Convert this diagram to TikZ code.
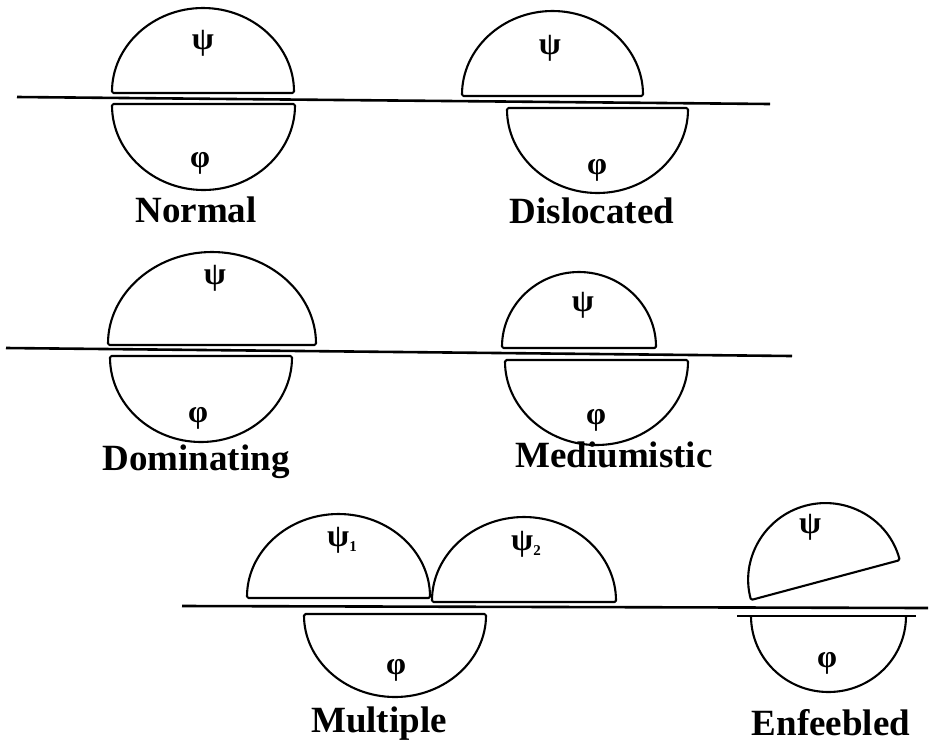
\documentclass[tikz,border=0pt]{standalone}
\usepackage{fontspec}
\setmainfont{Liberation Serif}
\usepackage{tikz}

\newcommand{\lowidx}[1]{\raisebox{-5pt}{\fontsize{15}{15}\selectfont #1}}

\begin{document}
\begin{tikzpicture}[
  x=1pt,
  y=-1pt,
  dome/.style={
    draw=black,
    line width=2.1pt,
    line join=round,
    rounded corners=1.5pt
  },
  ground/.style={
    draw=black,
    line width=2.6pt
  },
  caption/.style={
    anchor=base,
    inner sep=0pt,
    font=\fontsize{37}{40}\selectfont\bfseries
  },
  greek/.style={
    inner sep=0pt,
    font=\fontsize{32}{34}\selectfont\bfseries
  }
]
\useasboundingbox (0,0) rectangle (929,748);

% row one
\draw[ground] (17,97) -- (770,104);
\draw[dome] (112,93) arc[start angle=180, end angle=360, x radius=91, y radius=85] -- cycle;
\draw[dome] (112,104) arc[start angle=180, end angle=0, x radius=91.5, y radius=86] -- cycle;
\node[greek] (normpsi) at (203,43) {ψ};
\node[greek] (normphi) at (200,163) {φ};
\node[caption] (normal) at (196,222) {Normal};

\draw[dome] (462,96) arc[start angle=180, end angle=360, x radius=90.5, y radius=85] -- cycle;
\draw[dome] (507,108) arc[start angle=180, end angle=0, x radius=90.5, y radius=85] -- cycle;
\node[greek] (dislpsi) at (550,48) {ψ};
\node[greek] (dislphi) at (597,170) {φ};
\node[caption] (dislocated) at (592,223) {Dislocated};

% row two
\draw[ground] (6,348) -- (792,356);
\draw[dome] (108,345) arc[start angle=180, end angle=360, x radius=104, y radius=93] -- cycle;
\draw[dome] (110,356) arc[start angle=180, end angle=0, x radius=91, y radius=86] -- cycle;
\node[greek] (dompsi) at (215,278) {ψ};
\node[greek] (domphi) at (198,418) {φ};
\node[caption] (dominating) at (196,470) {Dominating};

\draw[dome] (502,348) arc[start angle=180, end angle=360, x radius=77, y radius=76] -- cycle;
\draw[dome] (505,360) arc[start angle=180, end angle=0, x radius=91.5, y radius=85] -- cycle;
\node[greek] (medpsi) at (583,305) {ψ};
\node[greek] (medphi) at (596,420) {φ};
\node[caption] (mediumistic) at (614,467) {Mediumistic};

% row three
\draw[ground] (182,606) -- (928,608);
\draw[dome] (247,598) arc[start angle=180, end angle=360, x radius=91.5, y radius=84] -- cycle;
\draw[dome] (432,602) arc[start angle=180, end angle=360, x radius=92, y radius=85] -- cycle;
\draw[dome] (304,614) arc[start angle=180, end angle=0, x radius=91, y radius=83] -- cycle;
\node[greek] (multpsia) at (342,540) {ψ\lowidx{1}};
\node[greek] (multpsib) at (526,544) {ψ\lowidx{2}};
\node[greek] (multphi) at (396,670) {φ};
\node[caption] (multiple) at (379,732) {Multiple};

\draw[dome] (751,600) arc[start angle=165, end angle=345, radius=77] -- cycle;
\draw[ground, line width=2.1pt] (737,616) -- (916,616);
\draw[dome] (751,616) arc[start angle=180, end angle=0, x radius=77.5, y radius=76];
\node[greek] (enfpsi) at (810,527) {ψ};
\node[greek] (enfphi) at (827,663) {φ};
\node[caption] (enfeebled) at (831,735) {Enfeebled};
\end{tikzpicture}
\end{document}
